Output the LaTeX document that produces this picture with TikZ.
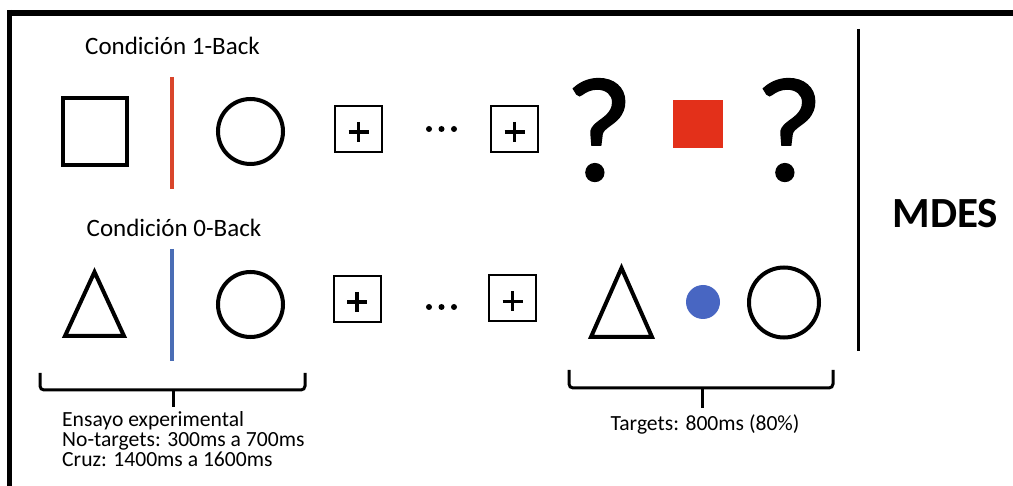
\documentclass[tikz,border=0pt]{standalone}
\usepackage{fontspec}
\setmainfont{Carlito}
\newfontfamily\qfont[FakeBold=1]{Carlito}
\definecolor{redline}{HTML}{D9452B}
\definecolor{redsq}{HTML}{E3301A}
\definecolor{blueline}{HTML}{4A6DB5}
\definecolor{bluedot}{HTML}{4866C2}
\begin{document}
\begin{tikzpicture}[x=1pt,y=-1pt,
  outl/.style={draw=black,line width=4pt,inner sep=0pt},
  sqbox/.style={outl,rectangle,minimum width=64pt,minimum height=67pt},
  circbox/.style={outl,circle,minimum size=65pt},
  crossbox/.style={draw=black,line width=2pt,rectangle,minimum width=47pt,minimum height=46pt,inner sep=0pt},
  plusline/.style={line width=3.2pt},
  dotmark/.style={circle,fill=black,minimum size=6pt,inner sep=0pt},
  tri/.style={line width=4pt,line join=miter},
  heading/.style={font=\fontsize{25}{30}\selectfont,inner sep=0pt,anchor=base},
  note/.style={font=\fontsize{21.6}{20}\selectfont,inner sep=0pt},
  qmark/.style={font=\qfont\fontsize{149}{149}\selectfont,inner sep=0pt},
  bracket/.style={line width=3pt,rounded corners=4pt},
  frame/.style={line width=6pt}
]
\useasboundingbox (0,0) rectangle (1013,486);
% frame
\draw[frame] (7,13) -- (1013,13);
\draw[line width=5pt] (9.5,10) -- (9.5,486);

% headings
\node[heading] (h1) at (172.5,55) {Condición 1-Back};
\node[heading] (h2) at (174,237) {Condición 0-Back};

% row 1
\node[sqbox] (sq1) at (95,131.5) {};
\coordinate (r1a) at (172,77); \coordinate (r1b) at (172,189);
\draw[redline,line width=4pt] (r1a) -- (r1b);
\node[circbox] (c1) at (250.5,131.5) {};
\node[crossbox] (x1) at (358.5,129) {};
\draw[plusline] ([xshift=-10pt,yshift=-3pt]x1.center) -- ([xshift=10pt,yshift=-3pt]x1.center);
\draw[plusline] ([yshift=7pt]x1.center) -- ([yshift=-13pt]x1.center);
\node[dotmark] (d1) at (429,129) {};
\node[dotmark] (d2) at (441.5,129) {};
\node[dotmark] (d3) at (454,129) {};
\node[crossbox] (x2) at (514.5,129) {};
\draw[plusline] ([xshift=-10pt,yshift=-3pt]x2.center) -- ([xshift=10pt,yshift=-3pt]x2.center);
\draw[plusline] ([yshift=7pt]x2.center) -- ([yshift=-13pt]x2.center);
\node[qmark] (q1) at (599,130) {?};
\node[fill=redsq,minimum width=50pt,minimum height=48pt,inner sep=0pt] (rs) at (698,124) {};
\node[qmark] (q2) at (789,130) {?};

% row 2
\coordinate (t1a) at (94.5,272); \coordinate (t1b) at (65,336); \coordinate (t1c) at (124,336);
\draw[tri] (t1a) -- (t1b) -- (t1c) -- cycle;
\coordinate (r2a) at (172,249); \coordinate (r2b) at (172,361);
\draw[blueline,line width=4pt] (r2a) -- (r2b);
\node[circbox] (c2) at (250.5,304.5) {};
\node[crossbox] (x3) at (357,299) {};
\draw[plusline] ([xshift=-10pt,yshift=-3pt]x3.center) -- ([xshift=10pt,yshift=-3pt]x3.center);
\draw[plusline] ([yshift=7pt]x3.center) -- ([yshift=-13pt]x3.center);
\node[dotmark] (d4) at (429,307) {};
\node[dotmark] (d5) at (441.5,307) {};
\node[dotmark] (d6) at (454,307) {};
\node[crossbox] (x4) at (512.5,298.5) {};
\draw[plusline] ([xshift=-10pt,yshift=-3pt]x4.center) -- ([xshift=10pt,yshift=-3pt]x4.center);
\draw[plusline] ([yshift=7pt]x4.center) -- ([yshift=-13pt]x4.center);
\coordinate (t2a) at (621.5,268); \coordinate (t2b) at (591,337); \coordinate (t2c) at (652,337);
\draw[tri] (t2a) -- (t2b) -- (t2c) -- cycle;
\node[circle,fill=bluedot,minimum size=34pt,inner sep=0pt] (bd) at (703,302) {};
\node[outl,circle,minimum size=70pt] (c3) at (784,302.5) {};

% divider and label
\coordinate (va) at (858,29); \coordinate (vb) at (858,351);
\draw[line width=3pt] (va) -- (vb);
\node[font=\fontsize{43}{43}\selectfont\bfseries,inner sep=0pt] (mdes) at (945.5,214) {MDES};

% brackets
\coordinate (lb1) at (40,373); \coordinate (lb2) at (40,390); \coordinate (lb3) at (305,390); \coordinate (lb4) at (305,373);
\coordinate (lbm) at (173,390); \coordinate (lbt) at (173,407);
\draw[bracket] (lb1) -- (lb2) -- (lb3) -- (lb4);
\draw[line width=3pt] (lbm) -- (lbt);
\coordinate (rb1) at (569,370); \coordinate (rb2) at (569,388); \coordinate (rb3) at (833,388); \coordinate (rb4) at (833,370);
\coordinate (rbm) at (702,388); \coordinate (rbt) at (702,408);
\draw[bracket] (rb1) -- (rb2) -- (rb3) -- (rb4);
\draw[line width=3pt] (rbm) -- (rbt);

% notes
\node[note,anchor=base west] (n1) at (62,427) {Ensayo experimental};
\node[note,anchor=base west] (n2) at (62,447) {No-targets: 300ms a 700ms};
\node[note,anchor=base west] (n3) at (62,467) {Cruz: 1400ms a 1600ms};
\node[note,anchor=base] (n4) at (705,431) {Targets: 800ms (80\%)};
\end{tikzpicture}
\end{document}
